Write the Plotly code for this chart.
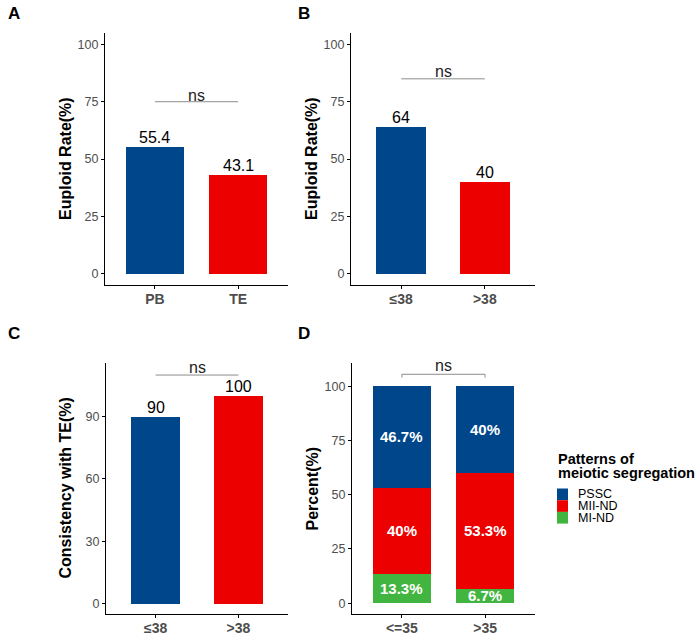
import plotly.graph_objects as go

W, H = 700, 638
BLUE, RED, GREEN = "#00468B", "#ED0000", "#42B540"
FONT = "Liberation Sans, Arial, Helvetica, sans-serif"
GREY_TXT = "#4D4D4D"

# ---------------- data ----------------
# Panel A
a_cats = ["PB", "TE"]
a_vals = [55.4, 43.1]
a_labels = ["55.4", "43.1"]
# Panel B
b_cats = ["≤38", ">38"]
b_vals = [64, 40]
b_labels = ["64", "40"]
# Panel C
c_cats = ["≤38", ">38"]
c_vals = [90, 100]
c_labels = ["90", "100"]
# Panel D (stacked, bottom -> top)
d_cats = ["<=35", ">35"]
d_mind = [13.3, 6.7]
d_miind = [40.0, 53.3]
d_pssc = [46.7, 40.0]
d_mind_lab = ["13.3%", "6.7%"]
d_miind_lab = ["40%", "53.3%"]
d_pssc_lab = ["46.7%", "40%"]
legend_names = ["PSSC", "MII-ND", "MI-ND"]
legend_colors = [BLUE, RED, GREEN]

sig_text = "ns"
sig_y = {"A": 75, "B": 85, "C": 110, "D": 105.5}


def px(x):
    return x / W


def py(y):
    return 1 - y / H


fig = go.Figure()

# bars
fig.add_trace(go.Bar(x=a_cats, y=a_vals, marker=dict(color=[BLUE, RED], line=dict(width=0)),
                     width=0.7, xaxis="x", yaxis="y", showlegend=False, hoverinfo="skip"))
fig.add_trace(go.Bar(x=b_cats, y=b_vals, marker=dict(color=[BLUE, RED], line=dict(width=0)),
                     width=0.6, xaxis="x2", yaxis="y2", showlegend=False, hoverinfo="skip"))
fig.add_trace(go.Bar(x=c_cats, y=c_vals, marker=dict(color=[BLUE, RED], line=dict(width=0)),
                     width=0.6, xaxis="x3", yaxis="y3", showlegend=False, hoverinfo="skip"))
for name, vals, col in [("MI-ND", d_mind, GREEN), ("MII-ND", d_miind, RED), ("PSSC", d_pssc, BLUE)]:
    fig.add_trace(go.Bar(x=d_cats, y=vals, name=name, marker=dict(color=col, line=dict(width=0)),
                         width=0.7, xaxis="x4", yaxis="y4", showlegend=False, hoverinfo="skip"))

annotations = []
shapes = []

# value labels above bars
for xa, ya, vals, labs in [("x", "y", a_vals, a_labels), ("x2", "y2", b_vals, b_labels),
                           ("x3", "y3", c_vals, c_labels)]:
    for i, (v, t) in enumerate(zip(vals, labs)):
        annotations.append(dict(x=i, y=v, xref=xa, yref=ya, text=t, showarrow=False,
                                yanchor="bottom", yshift=-1.5,
                                font=dict(family=FONT, size=16, color="black")))

# stacked segment labels
bottoms = [0, 0]
for vals, labs in [(d_mind, d_mind_lab), (d_miind, d_miind_lab), (d_pssc, d_pssc_lab)]:
    for i, (v, t) in enumerate(zip(vals, labs)):
        annotations.append(dict(x=i, y=bottoms[i] + v / 2, xref="x4", yref="y4", text=t,
                                showarrow=False, yanchor="middle",
                                font=dict(family=FONT, size=15, color="white", weight="bold")))
        bottoms[i] += v

# significance lines
for key, xa, ya, shift in [("A", "x", "y", -4), ("B", "x2", "y2", -3.5),
                           ("C", "x3", "y3", -3), ("D", "x4", "y4", -2)]:
    yv = sig_y[key]
    shapes.append(dict(type="line", xref=xa, yref=ya, x0=0, x1=1, y0=yv, y1=yv,
                       line=dict(color="#8C8C8C", width=1)))
    annotations.append(dict(x=0.5, y=yv, xref=xa, yref=ya, text=sig_text, showarrow=False,
                            yanchor="bottom", yshift=shift,
                            font=dict(family=FONT, size=16, color="#222222")))
# bracket tips for D
for xe in (0, 1):
    shapes.append(dict(type="line", xref="x4", yref="y4", x0=xe, x1=xe,
                       y0=sig_y["D"], y1=sig_y["D"] - 1.5, line=dict(color="#8C8C8C", width=1)))

# y-axis titles
for text, xc, yc in [("Euploid Rate(%)", 65, 159), ("Euploid Rate(%)", 311, 159),
                     ("Consistency with TE(%)", 65, 488.5), ("Percent(%)", 312, 488.5)]:
    annotations.append(dict(x=px(xc), y=py(yc), xref="paper", yref="paper", text=text,
                            textangle=-90, showarrow=False, xanchor="center", yanchor="middle",
                            font=dict(family=FONT, size=16, color="black", weight="bold")))

# panel letters
for text, xl, yc in [("A", 6, 13), ("B", 296, 13), ("C", 6, 333), ("D", 296, 333)]:
    annotations.append(dict(x=px(xl), y=py(yc), xref="paper", yref="paper", text=text,
                            showarrow=False, xanchor="left", yanchor="middle",
                            font=dict(family=FONT, size=17, color="black", weight="bold")))

# legend (manual)
annotations.append(dict(x=px(556), y=py(459), xref="paper", yref="paper", text="Patterns of",
                        showarrow=False, xanchor="left", yanchor="middle",
                        font=dict(family=FONT, size=14.5, color="black", weight="bold")))
annotations.append(dict(x=px(556), y=py(473), xref="paper", yref="paper",
                        text="meiotic segregation", showarrow=False, xanchor="left",
                        yanchor="middle",
                        font=dict(family=FONT, size=14.5, color="black", weight="bold")))
key_top, key_h = 488.5, 11.7
for k, (name, col) in enumerate(zip(legend_names, legend_colors)):
    y0 = key_top + k * key_h
    shapes.append(dict(type="rect", xref="paper", yref="paper", x0=px(557), x1=px(568),
                       y0=py(y0 + key_h), y1=py(y0), fillcolor=col, line=dict(width=0)))
    annotations.append(dict(x=px(576), y=py(y0 + key_h / 2), xref="paper", yref="paper",
                            text=name, showarrow=False, xanchor="left", yanchor="middle",
                            font=dict(family=FONT, size=12.5, color="black")))

xcommon = dict(showline=True, linecolor="black", linewidth=1.3, ticks="outside", ticklen=3,
               tickcolor="black", tickwidth=1, showgrid=False, zeroline=False,
               range=[-0.6, 1.6], type="category", ticklabelstandoff=-2,
               tickfont=dict(family=FONT, size=14, color=GREY_TXT, weight="bold"), fixedrange=True)
ycommon = dict(showline=True, linecolor="black", linewidth=1.3, ticks="outside", ticklen=3,
               tickcolor="black", tickwidth=1, showgrid=False, zeroline=False,
               tickfont=dict(family=FONT, size=12.5, color=GREY_TXT), fixedrange=True)

top_y = [py(285), py(33)]
bot_y = [py(614), py(363)]

fig.update_layout(
    width=W, height=H, margin=dict(l=0, r=0, t=0, b=0),
    paper_bgcolor="white", plot_bgcolor="white", barmode="stack", bargap=0,
    showlegend=False,
    xaxis=dict(domain=[px(105), px(288)], anchor="y", **xcommon),
    yaxis=dict(domain=top_y, anchor="x", range=[-5, 105], tickvals=[0, 25, 50, 75, 100], **ycommon),
    xaxis2=dict(domain=[px(351), px(535)], anchor="y2", **xcommon),
    yaxis2=dict(domain=top_y, anchor="x2", range=[-5, 105], tickvals=[0, 25, 50, 75, 100], **ycommon),
    xaxis3=dict(domain=[px(106), px(288)], anchor="y3", **xcommon),
    yaxis3=dict(domain=bot_y, anchor="x3", range=[-5, 115.8], tickvals=[0, 30, 60, 90], **ycommon),
    xaxis4=dict(domain=[px(352), px(535)], anchor="y4", **xcommon),
    yaxis4=dict(domain=bot_y, anchor="x4", range=[-5, 110.7], tickvals=[0, 25, 50, 75, 100], **ycommon),
    annotations=annotations, shapes=shapes,
)

fig.write_html("out.html", config={"displayModeBar": False})
